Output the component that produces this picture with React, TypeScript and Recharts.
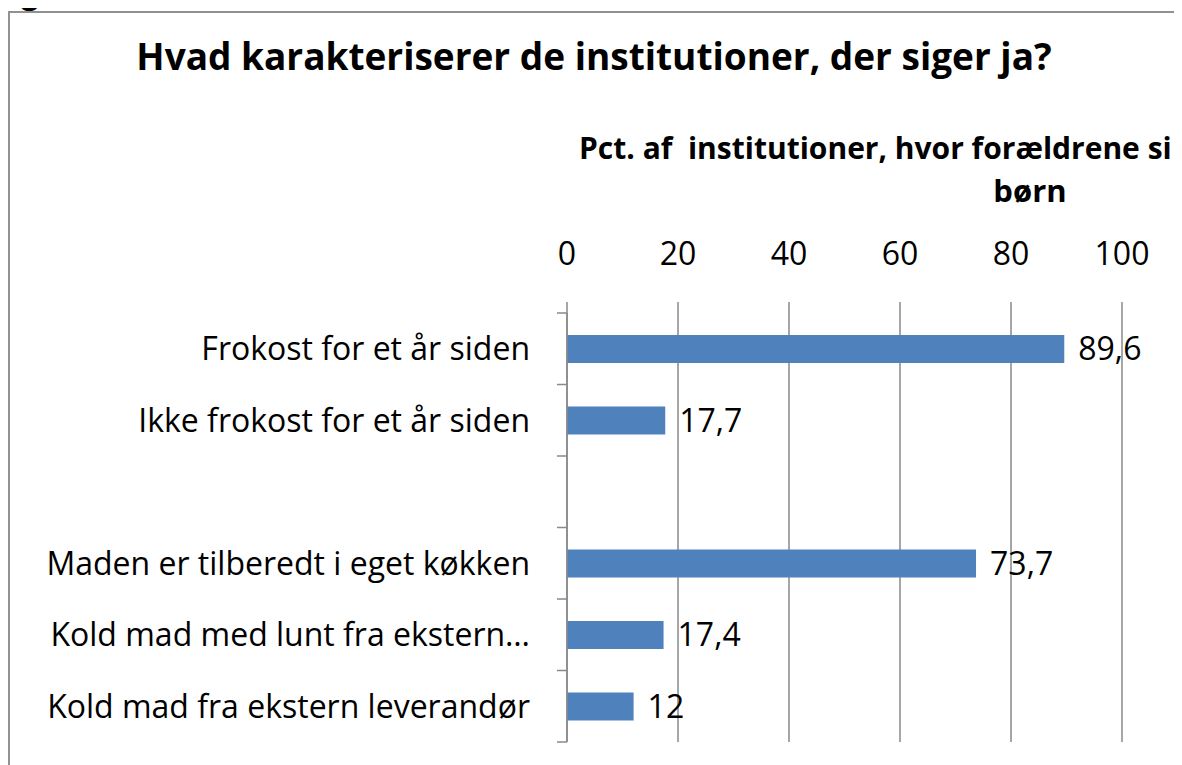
import React from "react"
import { Bar, BarChart, CartesianGrid, LabelList, XAxis, YAxis } from "recharts"

const categories = [
  "Frokost for et år siden",
  "Ikke frokost for et år siden",
  "",
  "Maden er tilberedt i eget køkken",
  "Kold mad med lunt fra ekstern…",
  "Kold mad fra ekstern leverandør",
]
const values: (number | null)[] = [89.6, 17.7, null, 73.7, 17.4, 12]
const xTicks = [0, 20, 40, 60, 80, 100]

const FONT = "'Open Sans', Lato, sans-serif"
const GRID = "#898989"
const BAR = "#4f81bd"
const LABEL_SIZE = 32
const Y_TICK = 10
const Y_MARGIN = 27

function CategoryTick(props: any) {
  const { x, y, payload, index, height, visibleTicksCount } = props
  const band = height && visibleTicksCount ? height / visibleTicksCount : 71.5
  const axisX = x + Y_TICK + Y_MARGIN
  const last = index === visibleTicksCount - 1
  return (
    <g>
      <line x1={axisX - Y_TICK} x2={axisX} y1={y - band / 2} y2={y - band / 2} stroke={GRID} strokeWidth={1.5} />
      {last && (
        <line x1={axisX - Y_TICK} x2={axisX} y1={y + band / 2} y2={y + band / 2} stroke={GRID} strokeWidth={1.5} />
      )}
      <text x={x} y={y} dy="0.36em" textAnchor="end" fontSize={LABEL_SIZE} fill="#000" fontFamily={FONT}>
        {payload.value}
      </text>
    </g>
  )
}

export default function App() {
  const data = categories.map((label, i) => ({ label, value: values[i] }))

  return (
    <div style={{ position: "relative", height: 757, fontFamily: FONT }}>
      <div
        style={{
          position: "absolute",
          left: -12,
          top: -30,
          fontSize: 30,
          fontWeight: 700,
          lineHeight: 1,
          whiteSpace: "nowrap",
        }}
      >
        Figur 5
      </div>
      <div
        style={{
          position: "absolute",
          left: 0,
          top: 3,
          width: 1168,
          height: 770,
          border: "2px solid #919191",
          overflow: "hidden",
        }}
      >
        <div
          style={{
            position: "absolute",
            left: 0,
            right: 0,
            top: 24,
            textAlign: "center",
            fontSize: 37,
            fontWeight: 700,
            lineHeight: 1,
            whiteSpace: "nowrap",
          }}
        >
          Hvad karakteriserer de institutioner, der siger ja?
        </div>
        <div
          style={{
            position: "absolute",
            left: 569,
            top: 120,
            fontSize: 30,
            fontWeight: 700,
            lineHeight: 1,
            whiteSpace: "pre",
          }}
        >
          {"Pct. af  institutioner, hvor forældrene si"}
        </div>
        <div
          style={{
            position: "absolute",
            left: 930,
            width: 180,
            top: 162,
            textAlign: "center",
            fontSize: 31,
            fontWeight: 700,
            lineHeight: 1,
          }}
        >
          børn
        </div>
        <BarChart
          width={1168}
          height={760}
          data={data}
          layout="vertical"
          margin={{ top: 240, right: 56, bottom: 31, left: 0 }}
          barSize={28}
        >
          <CartesianGrid horizontal={false} stroke={GRID} strokeWidth={1.5} />
          <XAxis
            type="number"
            orientation="top"
            domain={[0, 100]}
            ticks={xTicks}
            height={60}
            axisLine={false}
            tickLine={{ stroke: GRID, strokeWidth: 1.5 }}
            tickSize={11}
            tickMargin={37}
            tick={{ fontSize: LABEL_SIZE, fill: "#000", fontFamily: FONT }}
            interval={0}
          />
          <YAxis
            type="category"
            dataKey="label"
            width={557}
            axisLine={{ stroke: GRID, strokeWidth: 1.5 }}
            tickLine={false}
            tickSize={Y_TICK}
            tickMargin={Y_MARGIN}
            tick={<CategoryTick />}
            interval={0}
          />
          <Bar dataKey="value" fill={BAR} isAnimationActive={false}>
            <LabelList
              dataKey="value"
              position="right"
              offset={14}
              fontSize={LABEL_SIZE}
              fill="#000"
              fontFamily={FONT}
              formatter={(v: any) => (v == null ? "" : String(v).replace(".", ","))}
            />
          </Bar>
        </BarChart>
      </div>
    </div>
  )
}
